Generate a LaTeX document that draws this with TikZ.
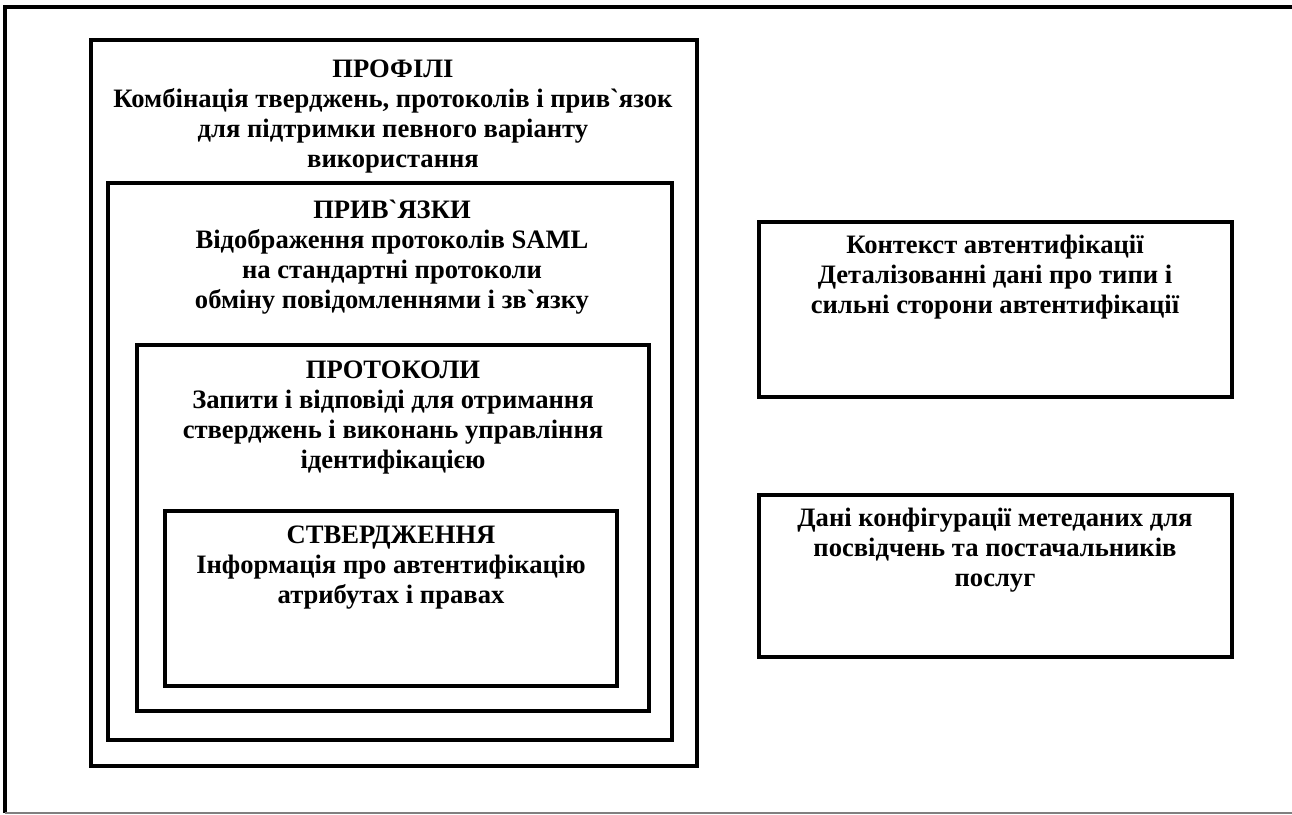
\documentclass[tikz,border=0pt]{standalone}
\usepackage{fontspec}
\setmainfont{Liberation Serif}[Ligatures=TeXOff]
\begin{document}
\begin{tikzpicture}[x=1pt,y=-1pt,
  frame/.style={draw=black,line width=3.2pt},
  label/.style={font=\bfseries\fontsize{26.6}{30}\selectfont,align=center,inner sep=0pt}]
\useasboundingbox (0,0) rectangle (1292,814);
% page border
\draw[line width=4pt] (5,813) -- (5,7) -- (1292,7);
\draw[gray,line width=1.5pt] (5,813) -- (1292,813);
% nested layers
\draw[frame] (91,40) rectangle (697,766);
\draw[frame] (108,183) rectangle (672,740);
\draw[frame] (137,345) rectangle (649,711);
\draw[frame] (165,511) rectangle (617,686);
% side boxes
\draw[frame] (759,222) rectangle (1232,397);
\draw[frame] (759,495) rectangle (1232,657);
% texts
\node[label] (profiles) at (393,117) {ПРОФІЛІ\\Комбінація тверджень, протоколів і прив`язок\\для підтримки певного варіанту\\використання};
\node[label] (bindings) at (392,257.5) {ПРИВ`ЯЗКИ\\Відображення протоколів SAML\\на стандартні протоколи\\обміну повідомленнями і зв`язку};
\node[label] (protocols) at (393,418) {ПРОТОКОЛИ\\Запити і відповіді для отримання\\стверджень і виконань управління\\ідентифікацією};
\node[label] (assertions) at (391,568) {СТВЕРДЖЕННЯ\\Інформація про автентифікацію\\атрибутах і правах};
\node[label] (authctx) at (995,277) {Контекст автентифікації\\Деталізованні дані про типи і\\сильні сторони автентифікації};
\node[label] (metadata) at (995,550) {Дані конфігурації метеданих для\\посвідчень та постачальників\\послуг};
\end{tikzpicture}
\end{document}
